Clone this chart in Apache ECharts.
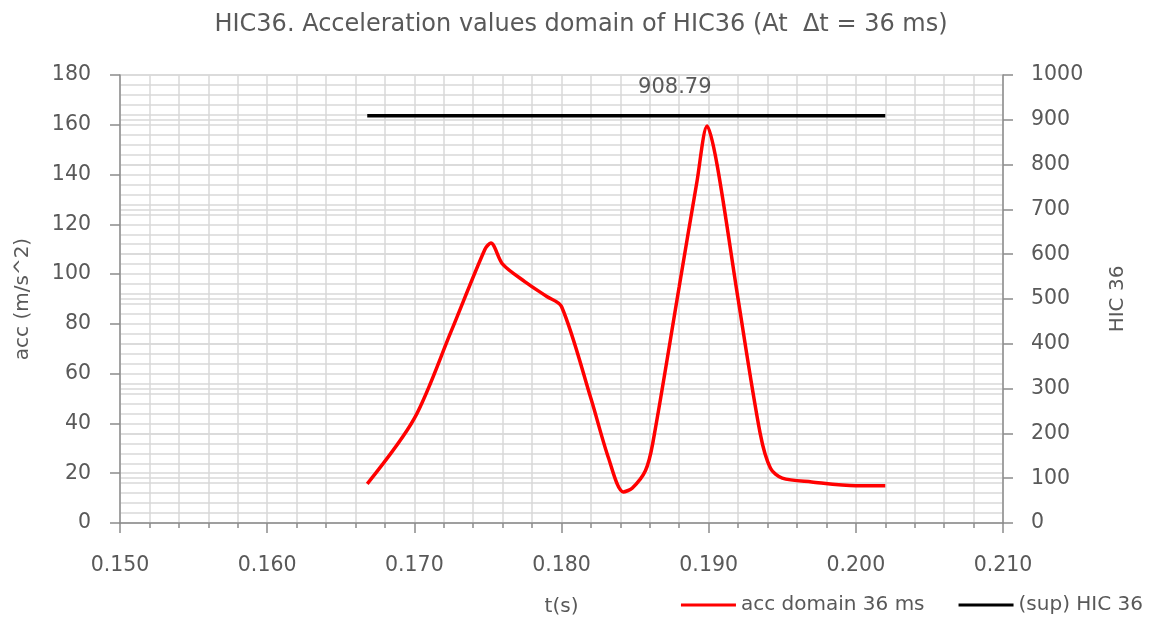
<!DOCTYPE html>
<html lang="en">
<head>
    <meta charset="UTF-8">
    <title>HIC36</title>
    <script src="https://cdn.jsdelivr.net/npm/echarts@6/dist/echarts.min.js"></script>
    <style>
        html,body{
            margin: 0;
            height: 100%;
            background: #fff;
        }
    </style>
</head>
<body>
<!--chart container-->
<div id="main" style="width: 1162px;height: 623px"></div>
<script>
    // acceleration curve (t in s, acc in m/s^2)
    var accTime = [0.1668, 0.1700, 0.1725, 0.1748, 0.1752, 0.1760, 0.1775, 0.1790, 0.1800,
        0.1820, 0.1832, 0.1842, 0.1848, 0.1857, 0.1862, 0.1880, 0.1892, 0.1899,
        0.1906, 0.1920, 0.1935, 0.1942, 0.1950, 0.1970, 0.2000, 0.2020];
    var accValue = [15.7, 42, 77, 110, 112.5, 104, 97, 91, 87,
        50, 26, 12.5, 14, 21, 32, 95, 137, 159.5,
        143, 90, 36, 22, 18, 16.5, 15, 15];
    // HIC 36 level
    var hicTime = [0.1668, 0.1877, 0.2020];
    var hicValue = [908.79, 908.79, 908.79];
    var hicLabelIndex = 1;

    var xTicks = [0.15, 0.16, 0.17, 0.18, 0.19, 0.20, 0.21];

    var txt = '#595959';
    var fontName = 'DejaVu Sans';

    var accData = accTime.map(function (t, i) { return [t, accValue[i]]; });
    var hicData = hicTime.map(function (t, i) {
        var item = {value: [t, hicValue[i]], symbol: 'none'};
        if (i === hicLabelIndex) {
            item.symbol = 'circle';
            item.symbolSize = 2;
            item.label = {show: true, position: 'top', distance: 17,
                formatter: function (p) { return p.value[1].toFixed(2); },
                color: txt, fontSize: 21, fontFamily: fontName};
        }
        return item;
    });

    var myChart = echarts.init(document.getElementById('main'));

    var option = {
        animation: false,
        title: {
            text: 'HIC36. Acceleration values domain of HIC36 (At  Δt = 36 ms)',
            left: 'center',
            top: 8,
            textStyle: {color: txt, fontSize: 24, fontWeight: 'normal', fontFamily: fontName}
        },
        legend: {
            right: 14,
            bottom: 3,
            itemWidth: 55,
            itemHeight: 3,
            itemGap: 34,
            icon: 'rect',
            textStyle: {color: txt, fontSize: 20, fontFamily: fontName},
            data: ['acc domain 36 ms', '(sup) HIC 36']
        },
        grid: {left: 120, right: 159, top: 75, bottom: 100},
        xAxis: {
            type: 'value',
            min: xTicks[0],
            max: xTicks[xTicks.length - 1],
            interval: 0.01,
            name: 't(s)',
            nameLocation: 'middle',
            nameGap: 74,
            nameTextStyle: {color: txt, fontSize: 20, fontFamily: fontName},
            axisLine: {lineStyle: {color: '#8c8c8c', width: 1.5}},
            axisTick: {show: true, length: 10, lineStyle: {color: '#8c8c8c', width: 1.5}},
            minorTick: {show: true, splitNumber: 5, length: 5, lineStyle: {color: '#8c8c8c', width: 1.5}},
            axisLabel: {color: txt, fontSize: 20.5, fontFamily: fontName, margin: 32,
                formatter: function (v) { return v.toFixed(3); }},
            splitLine: {show: true, lineStyle: {color: '#d9d9d9', width: 1.5}},
            minorSplitLine: {show: true, lineStyle: {color: '#d9d9d9', width: 1.5}}
        },
        yAxis: [
            {
                type: 'value',
                min: 0,
                max: 180,
                interval: 20,
                name: 'acc (m/s^2)',
                nameLocation: 'middle',
                nameGap: 87,
                nameRotate: 90,
                nameTextStyle: {color: txt, fontSize: 20, fontFamily: fontName},
                axisLine: {show: true, lineStyle: {color: '#8c8c8c', width: 1.5}},
                axisTick: {show: true, length: 10, lineStyle: {color: '#8c8c8c', width: 1.5}},
                axisLabel: {color: txt, fontSize: 20.5, fontFamily: fontName, margin: 29},
                splitLine: {show: true, lineStyle: {color: '#d9d9d9', width: 1.5}},
                minorTick: {show: false, splitNumber: 5},
                minorSplitLine: {show: true, lineStyle: {color: '#d9d9d9', width: 1.5}}
            },
            {
                type: 'value',
                min: 0,
                max: 1000,
                interval: 100,
                name: 'HIC 36',
                nameLocation: 'middle',
                nameGap: 105,
                nameRotate: 90,
                nameTextStyle: {color: txt, fontSize: 20, fontFamily: fontName},
                axisLine: {show: true, lineStyle: {color: '#8c8c8c', width: 1.5}},
                axisTick: {show: true, length: 10, lineStyle: {color: '#8c8c8c', width: 1.5}},
                axisLabel: {color: txt, fontSize: 20.5, fontFamily: fontName, margin: 28,
                    formatter: function (v) { return String(v); }},
                splitLine: {show: true, lineStyle: {color: '#d9d9d9', width: 1.5}}
            }
        ],
        series: [
            {
                name: 'acc domain 36 ms',
                type: 'line',
                yAxisIndex: 0,
                data: accData,
                smooth: 0.3,
                showSymbol: false,
                itemStyle: {color: '#ff0000'},
                lineStyle: {color: '#ff0000', width: 3.5}
            },
            {
                name: '(sup) HIC 36',
                type: 'line',
                yAxisIndex: 1,
                data: hicData,
                showSymbol: true,
                itemStyle: {color: '#000000'},
                lineStyle: {color: '#000000', width: 3.5},
                z: 3
            }
        ]
    };
    myChart.setOption(option);
</script>
</body>
</html>
